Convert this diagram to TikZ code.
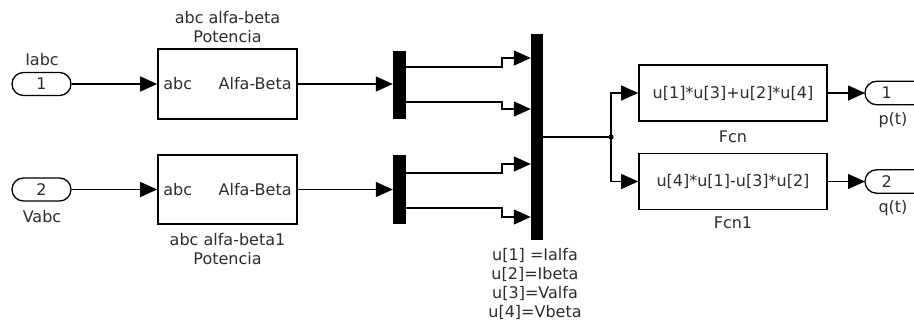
\documentclass[tikz,border=0pt]{standalone}
\usepackage{fontspec}
\setmainfont{DejaVu Sans}
\usetikzlibrary{arrows.meta,shapes.misc,calc}
\definecolor{txt}{RGB}{45,45,45}
\tikzset{
  lbl/.style={font=\fontsize{16}{19}\selectfont, text=txt, inner sep=0pt, align=center},
  blk/.style={draw, line width=1.6pt, minimum width=139pt, inner sep=0pt},
  fcnblk/.style={draw, line width=1.6pt, minimum width=188pt, minimum height=56pt, inner sep=0pt, font=\fontsize{16}{19}\selectfont, text=txt},
  bar/.style={fill=black, draw=none, minimum width=13pt, inner sep=0pt},
  port/.style={draw, rounded rectangle, line width=1.3pt, minimum width=59pt, minimum height=23pt, inner sep=0pt, font=\fontsize{16}{19}\selectfont, text=txt},
  wire/.style={line width=1.3pt},
  arr/.style={wire, -{Triangle[length=17pt,width=15pt]}}
}
\begin{document}
\begin{tikzpicture}[x=1pt,y=-1pt]
\useasboundingbox (0,0) rectangle (914,322);
\fill[white] (0,0) rectangle (914,322);

% inports
\node[port] (in1) at (41.5,84) {1};
\node[port] (in2) at (41.5,189.5) {2};
\node[lbl] (lin1) at (42,60) {Iabc};
\node[lbl] (lin2) at (42,217) {Vabc};

% transform blocks
\node[blk, minimum height=70pt] (B1) at (227.5,84) {};
\node[blk, minimum height=69pt] (B2) at (227.5,189.5) {};
\node[lbl, anchor=west] (B1i) at ([xshift=6pt]B1.west) {abc};
\node[lbl, anchor=east] (B1o) at ([xshift=-6pt]B1.east) {Alfa-Beta};
\node[lbl, anchor=west] (B2i) at ([xshift=6pt]B2.west) {abc};
\node[lbl, anchor=east] (B2o) at ([xshift=-6pt]B2.east) {Alfa-Beta};
\node[lbl] (B1t) at (227.5,27) {abc alfa-beta\\Potencia};
\node[lbl] (B2t) at (227.5,249) {abc alfa-beta1\\Potencia};

% demux and mux bars
\node[bar, minimum height=68pt] (D1) at (399.5,84.5) {};
\node[bar, minimum height=69pt] (D2) at (399.5,189.5) {};
\node[bar, minimum width=12pt, minimum height=206pt] (M) at (537,137) {};
\node[lbl] (Ml) at (535,284) {u[1] =Ialfa\\u[2]=Ibeta\\u[3]=Valfa\\u[4]=Vbeta};

% function blocks
\node[fcnblk] (F1) at (733,93) {u[1]*u[3]+u[2]*u[4]};
\node[fcnblk] (F2) at (733,181.5) {u[4]*u[1]-u[3]*u[2]};
\node[lbl] (F1l) at (733,137) {Fcn};
\node[lbl] (F2l) at (733,223) {Fcn1};

% outports (cut by the right edge)
\node[minimum width=49pt, minimum height=23pt, inner sep=0pt, anchor=west, font=\fontsize{16}{19}\selectfont, text=txt] (O1) at (865,93) {\hspace*{-6pt}1};
\node[minimum width=49pt, minimum height=23pt, inner sep=0pt, anchor=west, font=\fontsize{16}{19}\selectfont, text=txt] (O2) at (865,181.5) {\hspace*{-6pt}2};
\draw[wire, rounded corners=11.5pt] (O1.north east) -- (O1.north west) -- (O1.south west) -- (O1.south east);
\draw[wire, rounded corners=11.5pt] (O2.north east) -- (O2.north west) -- (O2.south west) -- (O2.south east);
\node[lbl] (O1l) at (893,120) {p(t)};
\node[lbl] (O2l) at (893,208) {q(t)};

% connectors
\draw[arr] (in1.east) -- (B1.west);
\draw[arr] (in2.east) -- (B2.west);
\draw[arr] (B1.east) -- (B1.east -| D1.west);
\draw[arr] (B2.east) -- (B2.east -| D2.west);

\draw[arr] (D1.east |- 0,67) -- (502,67) -- (502,58) -- (M.west |- 0,58);
\draw[arr] (D1.east |- 0,102) -- (502,102) -- (502,109) -- (M.west |- 0,109);
\draw[arr] (D2.east |- 0,173) -- (502,173) -- (502,164) -- (M.west |- 0,164);
\draw[arr] (D2.east |- 0,208) -- (502,208) -- (502,217) -- (M.west |- 0,217);

\coordinate (J) at (611,137);
\draw[wire] (M.east) -- (J);
\fill (J) circle (2.6pt);
\draw[arr] (J) |- (F1.west);
\draw[arr] (J) |- (F2.west);
\draw[arr] (F1.east) -- (O1.west);
\draw[arr] (F2.east) -- (O2.west);
\end{tikzpicture}
\end{document}
